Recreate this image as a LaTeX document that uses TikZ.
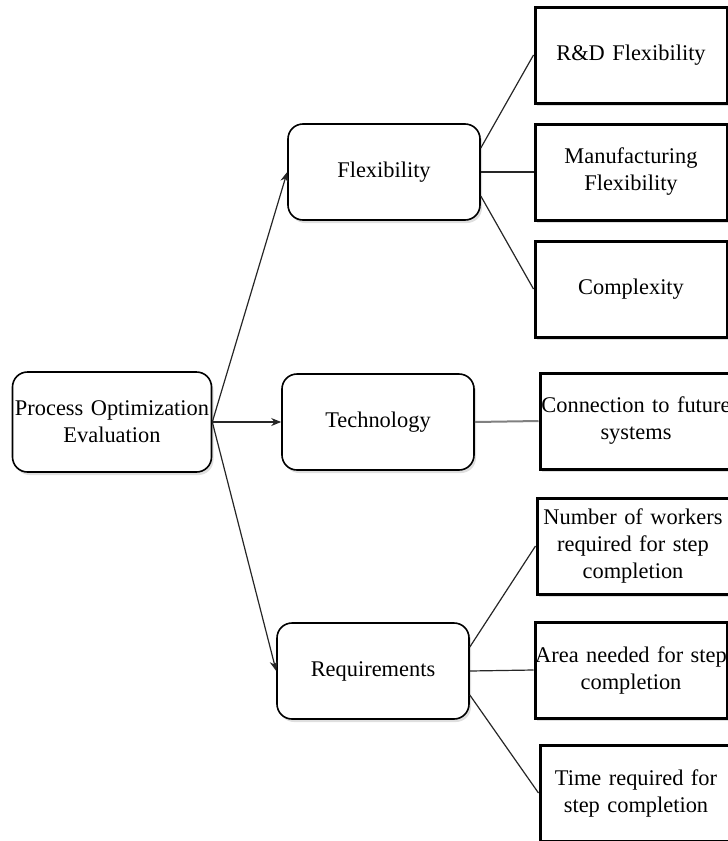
\documentclass[tikz,border=0pt]{standalone}
\usepackage{fontspec}
\setmainfont{Liberation Serif}
\usetikzlibrary{shadows,arrows.meta}
\begin{document}
\begin{tikzpicture}[x=0.5pt,y=-0.5pt,
    every node/.style={font=\fontsize{11.2}{13.5}\selectfont, align=center, inner xsep=0pt},
    soft/.style={draw, line width=0.8pt, rounded corners=7.5pt, text width=96pt,
      minimum height=48pt, fill=white,
      drop shadow={shadow xshift=1pt, shadow yshift=-1.5pt, opacity=0.25}},
    hard/.style={draw, line width=1.5pt, text width=96pt, minimum height=48pt,
      fill=white, drop shadow={shadow xshift=1pt, shadow yshift=-1.5pt, opacity=0.25}},
    link/.style={draw=black!85, line width=0.6pt}]
    \useasboundingbox (0,0) rectangle (728,841);
    \clip (0,0) rectangle (728,841);
    \node[soft, text width=99.5pt, minimum height=50pt] (root) at (112,422) {Process Optimization\\Evaluation};
    \node[soft] (flex) at (384,172) {Flexibility};
    \node[soft] (tech) at (378,422) {Technology};
    \node[soft] (req) at (373,671) {Requirements};
    \node[hard] (rd) at (631,55) {R\&D Flexibility};
    \node[hard] (manu) at (631,172) {Manufacturing\\Flexibility};
    \node[hard] (cplx) at (631,289) {Complexity};
    \node[hard] (conn) at (636,421) {Connection to future\\systems};
    \node[hard] (work) at (633,546) {Number of workers\\required for step\\completion};
    \node[hard] (area) at (631,670) {Area needed for step\\completion};
    \node[hard] (time) at (636,793) {Time required for\\step completion};
    \draw [link,-{Stealth[length=5pt,width=4pt]}] (root.east) -- (flex.west);
    \draw [link,-{Stealth[length=5pt,width=4pt]}] (root.east) -- (tech.west);
    \draw [link,-{Stealth[length=5pt,width=4pt]}] (root.east) -- (req.west);
    \draw [link] ([yshift=12pt]flex.east) -- (rd.west);
    \draw [link] (flex.east) -- (manu.west);
    \draw [link] ([yshift=-12pt]flex.east) -- (cplx.west);
    \draw [link,draw=black!50,line width=1pt] (tech.east) -- (conn.west);
    \draw [link] ([yshift=12pt]req.east) -- (work.west);
    \draw [link] (req.east) -- (area.west);
    \draw [link] ([yshift=-12pt]req.east) -- (time.west);
\end{tikzpicture}
\end{document}
